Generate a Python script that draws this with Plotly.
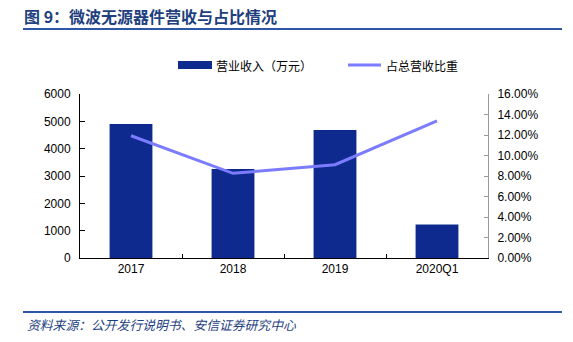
import plotly.graph_objects as go

categories = ["2017", "2018", "2019", "2020Q1"]
revenue = [4900, 3260, 4680, 1230]
share = [0.1193, 0.0826, 0.0910, 0.1337]
left_ticks = [0, 1000, 2000, 3000, 4000, 5000, 6000]
right_ticks = [0, 0.02, 0.04, 0.06, 0.08, 0.10, 0.12, 0.14, 0.16]

title_text = "图 9：微波无源器件营收与占比情况"
source_text = "资料来源：公开发行说明书、安信证券研究中心"
bar_name = "营业收入（万元）"
line_name = "占总营收比重"

BAR_COLOR = "#0f2a8e"
LINE_COLOR = "#7b7cff"
HEAD_BLUE = "#1f3f80"
RULE_BLUE = "#2f55a5"

fig = go.Figure()
fig.add_trace(go.Bar(x=categories, y=revenue, name=bar_name, marker_color=BAR_COLOR,
                     marker_line_width=0, width=0.42, yaxis="y", showlegend=False))
fig.add_trace(go.Scatter(x=categories, y=share, name=line_name, mode="lines",
                         line=dict(color=LINE_COLOR, width=3), yaxis="y2", showlegend=False))

W, H = 573, 342
L, R, T, B = 80, 488, 94, 258

def cx(x):
    return (x - L) / (R - L)

def cy(y):
    return (B - y) / (B - T)

fig.update_layout(
    width=W, height=H,
    margin=dict(l=L, r=W - R, t=T, b=H - B),
    paper_bgcolor="white", plot_bgcolor="white",
    font=dict(family="Liberation Sans, Arial, sans-serif", size=12, color="#000"),
    xaxis=dict(showline=True, linecolor="#000", linewidth=1, ticks="inside", ticklen=4,
               tickcolor="#000", tickson="boundaries", showgrid=False,
               tickfont=dict(size=12, color="#000"), range=[-0.5, 3.5]),
    yaxis=dict(range=[0, 6000], tickvals=left_ticks, showline=True, linecolor="#000",
               linewidth=1, ticks="inside", ticklen=5, tickcolor="#000", showgrid=False,
               zeroline=False, tickfont=dict(size=12, color="#000"), ticklabelstandoff=6),
    yaxis2=dict(range=[0, 0.16], tickvals=right_ticks, tickformat=".2%", overlaying="y",
                side="right", showline=True, linecolor="#999", linewidth=1, ticks="inside",
                ticklen=4, tickcolor="#999", showgrid=False, zeroline=False,
                tickfont=dict(size=12, color="#000"), ticklabelstandoff=6),
    showlegend=False,
)

def pline(x0, x1, y, color, width):
    return dict(type="line", xref="paper", yref="paper", x0=cx(x0), x1=cx(x1),
                y0=cy(y), y1=cy(y), line=dict(color=color, width=width))

shapes = [
    pline(23, 562, 29, RULE_BLUE, 2),
    pline(23, 562, 312, RULE_BLUE, 2),
    dict(type="rect", xref="paper", yref="paper", x0=cx(178), x1=cx(212), y0=cy(69), y1=cy(61),
         fillcolor=BAR_COLOR, line=dict(width=0)),
    pline(348, 381, 65, LINE_COLOR, 3),
]
fig.update_layout(shapes=shapes)

ann = [
    dict(text="<b>" + title_text + "</b>", x=cx(22), y=cy(16), xanchor="left", yanchor="middle",
         font=dict(family="Noto Sans CJK SC", size=16, color=HEAD_BLUE)),
    dict(text="<i>" + source_text + "</i>", x=cx(25), y=cy(324), xanchor="left", yanchor="middle",
         font=dict(family="Noto Sans CJK SC", size=12.8, color=HEAD_BLUE)),
    dict(text=bar_name, x=cx(214), y=cy(65), xanchor="left", yanchor="middle",
         font=dict(family="Noto Sans CJK SC", size=12, color="#000")),
    dict(text=line_name, x=cx(384), y=cy(65), xanchor="left", yanchor="middle",
         font=dict(family="Noto Sans CJK SC", size=12, color="#000")),
]
for a in ann:
    a.update(xref="paper", yref="paper", showarrow=False)
fig.update_layout(annotations=ann)

fig.write_html("out.html")
